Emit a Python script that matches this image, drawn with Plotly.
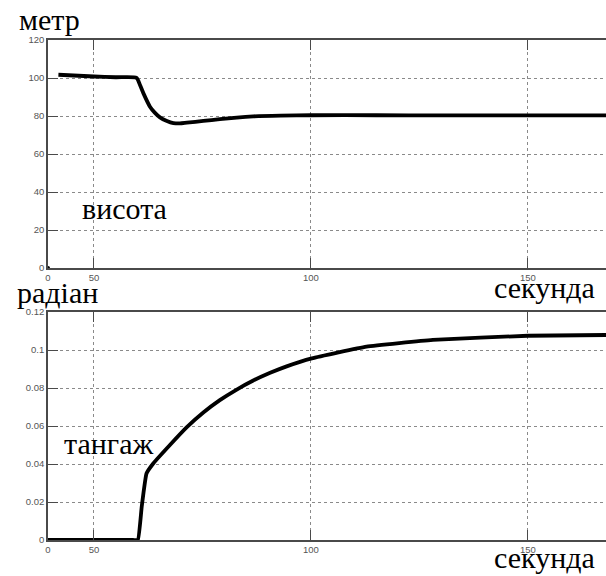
import plotly.graph_objects as go

# ---- data (time in seconds) ----
height_t = [41.8, 50.0, 55.0, 59.8, 60.6, 61.4, 62.9, 64.0, 65.2, 66.8, 68.3, 69.8, 71.4, 75.2, 79.0, 82.9, 86.7, 93.0, 100.0, 115.0, 130.0, 150.0, 168.0]
height_v = [101.7, 100.8, 100.4, 100.1, 96.3, 91.9, 84.9, 81.8, 79.3, 77.4, 76.3, 76.1, 76.5, 77.4, 78.3, 79.2, 79.8, 80.2, 80.4, 80.4, 80.3, 80.3, 80.3]

pitch_t = [39.4, 59.0, 60.1, 61.0, 62.1, 63.7, 67.5, 71.4, 75.2, 79.0, 82.9, 86.6, 90.6, 94.4, 100.2, 112.8, 128.1, 150.0, 168.0]
pitch_v = [0.0, 0.0, 0.0, 0.0175, 0.035, 0.0404, 0.0500, 0.0594, 0.0671, 0.0736, 0.0792, 0.0838, 0.0880, 0.0914, 0.0956, 0.1018, 0.1053, 0.1075, 0.1079]

origin_t = [39.4]
origin_v = [0.0]

x_tick_vals = [39.4, 50, 100, 150]
x_tick_text = ["0", "50", "100", "150"]
x_range = [39.4, 168.0]

top_y_ticks = [0, 20, 40, 60, 80, 100, 120]
top_y_text = ["0", "20", "40", "60", "80", "100", "120"]
bot_y_ticks = [0, 0.02, 0.04, 0.06, 0.08, 0.1, 0.12]
bot_y_text = ["0", "0.02", "0.04", "0.06", "0.08", "0.1", "0.12"]

W, H = 606, 576

fig = go.Figure()
fig.add_trace(go.Scatter(x=height_t, y=height_v, mode="lines",
                         line=dict(color="black", width=3.8, shape="spline", smoothing=0.6),
                         xaxis="x", yaxis="y"))
fig.add_trace(go.Scatter(x=origin_t, y=origin_v, mode="markers", cliponaxis=False,
                         marker=dict(color="black", size=4), xaxis="x", yaxis="y"))
fig.add_trace(go.Scatter(x=pitch_t, y=pitch_v, mode="lines", cliponaxis=False,
                         line=dict(color="black", width=3.8, shape="spline", smoothing=0.35),
                         xaxis="x2", yaxis="y2"))

tickfont = dict(family="Liberation Sans, Arial", size=9.5, color="#555555")
xcommon = dict(range=x_range, tickmode="array", tickvals=x_tick_vals, ticktext=x_tick_text,
               showgrid=True, gridcolor="#8a8a8a", griddash="dot", gridwidth=1,
               showline=True, linecolor="#4a4a4a", linewidth=1.6, mirror="ticks",
               ticks="inside", ticklen=10, tickcolor="#4a4a4a", tickwidth=1.3,
               tickfont=tickfont, zeroline=False, domain=[48 / W, 1.0])
ycommon = dict(showgrid=True, gridcolor="#8a8a8a", griddash="dot", gridwidth=1,
               showline=True, linecolor="#4a4a4a", linewidth=1.6, mirror=False,
               ticks="inside", ticklen=10, tickcolor="#4a4a4a", tickwidth=1.3,
               tickfont=tickfont, zeroline=False, tickmode="array")

fig.update_layout(
    width=W, height=H, margin=dict(l=0, r=0, t=0, b=0, autoexpand=False),
    paper_bgcolor="white", plot_bgcolor="white", showlegend=False,
    xaxis=dict(**xcommon, anchor="y"),
    yaxis=dict(**ycommon, range=[0, 120], tickvals=top_y_ticks, ticktext=top_y_text,
               domain=[1 - 268 / H, 1 - 40 / H], anchor="x"),
    xaxis2=dict(**xcommon, anchor="y2"),
    yaxis2=dict(**ycommon, range=[0, 0.12], tickvals=bot_y_ticks, ticktext=bot_y_text,
                domain=[1 - 540 / H, 1 - 312 / H], anchor="x2"),
)

serif = dict(family="Liberation Serif, Times New Roman, serif", size=30, color="black")
labels = [
    ("метр", 17, 29, "left"),
    ("висота", 80, 218, "left"),
    ("радіан", 15, 302, "left"),
    ("секунда", 597, 297, "right"),
    ("тангаж", 62, 453, "left"),
    ("секунда", 597, 567, "right"),
]
for text, px, baseline, anchor in labels:
    fig.add_annotation(text=text, xref="paper", yref="paper", x=px / W,
                       y=1 - (baseline - 10) / H, xanchor=anchor, yanchor="middle",
                       showarrow=False, font=serif)

fig.write_html("out.html", config={"displayModeBar": False},
               post_script="document.body.style.margin='0';document.body.style.overflow='hidden';")
